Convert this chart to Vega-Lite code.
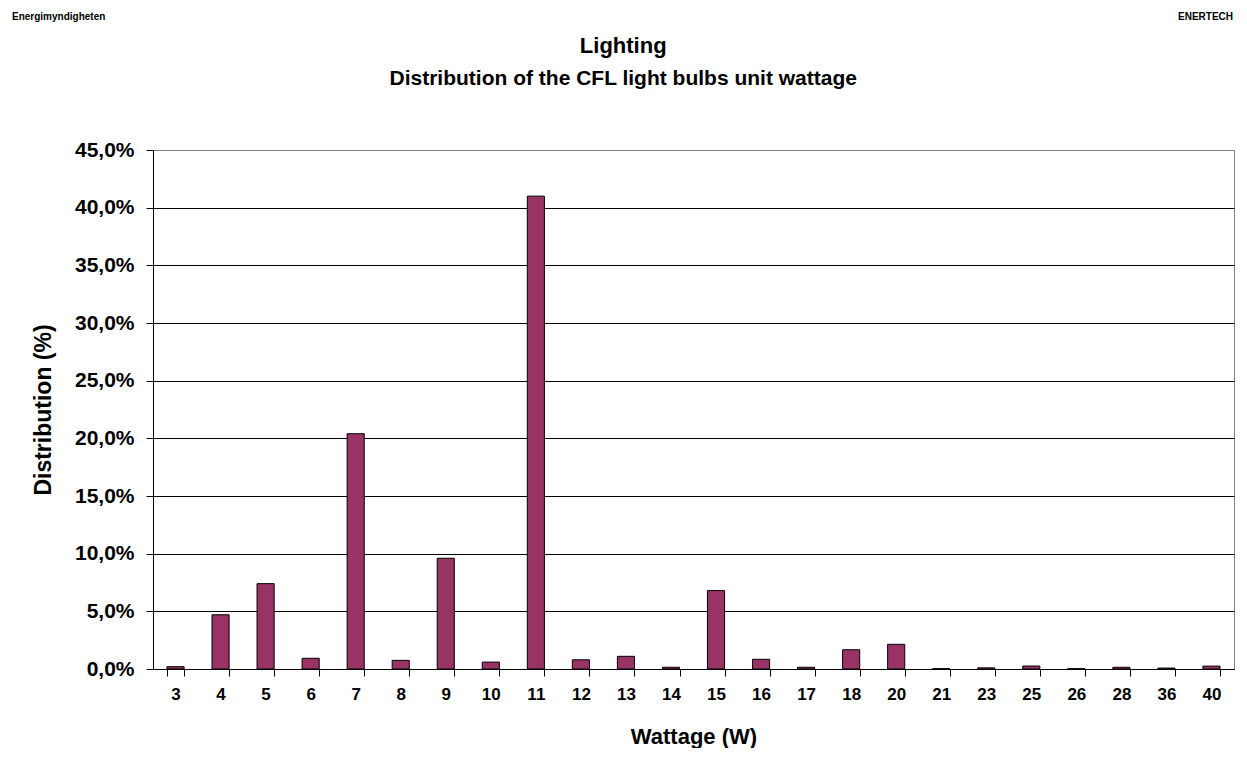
{
  "$schema": "https://vega.github.io/schema/vega-lite/v6.json",
  "padding": {"left": 12, "top": 12, "right": 0, "bottom": 0},
  "background": "white",
  "spacing": 12,
  "config": {
    "font": "Liberation Sans",
    "view": {"stroke": null}
  },
  "vconcat": [
    {
      "width": 1081,
      "height": 10,
      "data": {"values": [{"label": "Energimyndigheten", "side": "left"}, {"label": "ENERTECH", "side": "right"}]},
      "encoding": {
        "x": {"field": "side", "type": "nominal", "scale": {"type": "point", "domain": ["left", "right"], "range": [-141, 1080], "padding": 0}, "axis": null},
        "text": {"field": "label"}
      },
      "layer": [
        {"transform": [{"filter": "datum.side === 'left'"}], "mark": {"type": "text", "align": "left", "baseline": "middle", "fontSize": 10, "fontWeight": "bold", "color": "black"}},
        {"transform": [{"filter": "datum.side === 'right'"}], "mark": {"type": "text", "align": "right", "baseline": "middle", "fontSize": 10, "fontWeight": "bold", "color": "black"}}
      ]
    },
    {
      "width": 1081,
      "height": 519,
      "view": {"stroke": "#808080", "strokeWidth": 1},
      "title": {
        "text": "Lighting",
        "subtitle": "Distribution of the CFL light bulbs unit wattage",
        "fontSize": 22,
        "fontWeight": "bold",
        "subtitleFontSize": 21,
        "subtitleFontWeight": "bold",
        "subtitleColor": "black",
        "subtitlePadding": 10,
        "color": "black",
        "anchor": "middle",
        "frame": "bounds",
        "dx": -10,
        "offset": 49
      },
      "data": {"values": [
        {"w": 3, "share": 0.002},
        {"w": 4, "share": 0.047},
        {"w": 5, "share": 0.074},
        {"w": 6, "share": 0.0093},
        {"w": 7, "share": 0.204},
        {"w": 8, "share": 0.0075},
        {"w": 9, "share": 0.096},
        {"w": 10, "share": 0.006},
        {"w": 11, "share": 0.41},
        {"w": 12, "share": 0.008},
        {"w": 13, "share": 0.011},
        {"w": 14, "share": 0.0015},
        {"w": 15, "share": 0.068},
        {"w": 16, "share": 0.0084},
        {"w": 17, "share": 0.0015},
        {"w": 18, "share": 0.0167},
        {"w": 20, "share": 0.0214},
        {"w": 21, "share": 0.0003},
        {"w": 23, "share": 0.001},
        {"w": 25, "share": 0.0026},
        {"w": 26, "share": 0.0003},
        {"w": 28, "share": 0.0015},
        {"w": 36, "share": 0.0008},
        {"w": 40, "share": 0.0025}
      ]},
      "mark": {"type": "bar", "fill": "#993366", "stroke": "black", "strokeWidth": 1},
      "encoding": {
        "x": {
          "field": "w", "type": "ordinal",
          "scale": {"paddingInner": 0.62, "paddingOuter": 0.31},
          "axis": {
            "title": "Wattage (W)",
            "labelAngle": 0,
            "labelFontSize": 17,
            "labelFontWeight": "bold",
            "labelColor": "black",
            "labelPadding": 10,
            "tickBand": "extent",
            "tickSize": 7,
            "tickColor": "black",
            "domainColor": "black",
            "titleFontSize": 22,
            "titleFontWeight": "bold",
            "titleColor": "black",
            "titlePadding": 24
          }
        },
        "y": {
          "field": "share", "type": "quantitative",
          "scale": {"domain": [0, 0.45], "nice": false},
          "axis": {
            "title": "Distribution (%)",
            "values": [0, 0.05, 0.1, 0.15, 0.2, 0.25, 0.3, 0.35, 0.4, 0.45],
            "labelExpr": "replace(format(datum.value, '.1%'), '.', ',')",
            "labelFontSize": 21,
            "labelFontWeight": "bold",
            "labelColor": "black",
            "labelPadding": 12,
            "tickSize": 7,
            "tickColor": "black",
            "domainColor": "black",
            "grid": true,
            "gridColor": {"condition": {"test": "datum.value >= 0.449", "value": "#808080"}, "value": "black"},
            "gridOpacity": 1,
            "titleFontSize": 23,
            "titleFontWeight": "bold",
            "titleColor": "black",
            "titlePadding": 19
          }
        }
      }
    }
  ]
}
